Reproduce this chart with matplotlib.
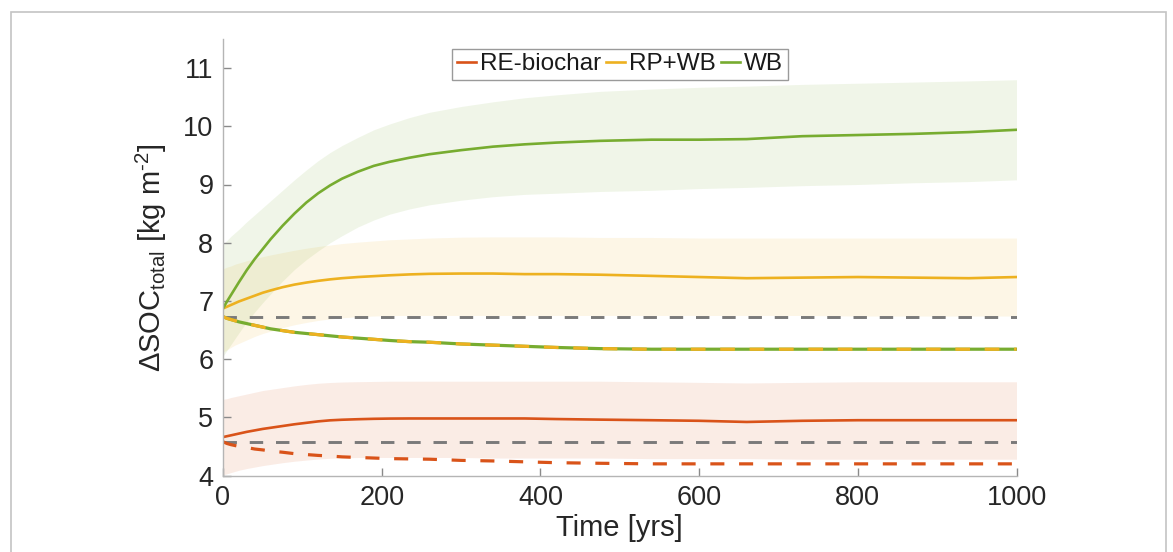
import matplotlib
matplotlib.use("Agg")
import matplotlib.pyplot as plt
from matplotlib.patches import Rectangle

plt.rcParams['font.family'] = ['Liberation Sans', 'DejaVu Sans']
plt.rcParams['mathtext.fontset'] = 'custom'
plt.rcParams['mathtext.rm'] = 'Liberation Sans'
plt.rcParams['mathtext.it'] = 'Liberation Sans:italic'

# ---- data ----
time_yrs = [0, 5, 10, 15, 20, 30, 40, 50, 60, 75, 90, 105, 120, 135, 150, 170, 190, 210,
            235, 260, 300, 340, 380, 420, 475, 540, 600, 660, 730, 800, 870, 940, 1000]

re_mean = [4.66, 4.675, 4.69, 4.705, 4.72, 4.75, 4.775, 4.80, 4.82, 4.85, 4.88, 4.905, 4.93,
           4.948, 4.958, 4.967, 4.974, 4.978, 4.98, 4.98, 4.98, 4.98, 4.98, 4.97, 4.96, 4.95,
           4.94, 4.92, 4.94, 4.95, 4.95, 4.95, 4.95]
re_upper = [5.31, 5.32, 5.34, 5.355, 5.37, 5.40, 5.43, 5.46, 5.48, 5.51, 5.54, 5.565, 5.585,
            5.598, 5.606, 5.612, 5.616, 5.62, 5.62, 5.62, 5.62, 5.62, 5.62, 5.62, 5.62, 5.61,
            5.60, 5.59, 5.60, 5.61, 5.61, 5.61, 5.61]
re_lower = [4.01, 4.03, 4.05, 4.07, 4.09, 4.12, 4.145, 4.17, 4.19, 4.22, 4.245, 4.265, 4.283,
            4.296, 4.304, 4.309, 4.31, 4.31, 4.31, 4.31, 4.31, 4.30, 4.30, 4.30, 4.30, 4.29,
            4.29, 4.29, 4.28, 4.28, 4.28, 4.28, 4.28]
re_dashed = [4.58, 4.55, 4.53, 4.515, 4.50, 4.48, 4.455, 4.44, 4.42, 4.40, 4.375, 4.36, 4.345,
             4.335, 4.32, 4.31, 4.30, 4.29, 4.285, 4.28, 4.26, 4.25, 4.235, 4.22, 4.21, 4.20,
             4.20, 4.20, 4.20, 4.20, 4.20, 4.20, 4.20]

rpwb_mean = [6.87, 6.90, 6.93, 6.96, 6.99, 7.04, 7.09, 7.14, 7.18, 7.235, 7.28, 7.315, 7.345,
             7.37, 7.39, 7.41, 7.425, 7.44, 7.455, 7.465, 7.47, 7.47, 7.46, 7.46, 7.45, 7.43,
             7.41, 7.39, 7.40, 7.41, 7.40, 7.39, 7.41]
rpwb_upper = [7.55, 7.58, 7.60, 7.63, 7.65, 7.69, 7.73, 7.76, 7.79, 7.83, 7.87, 7.905, 7.935,
              7.96, 7.985, 8.01, 8.03, 8.05, 8.065, 8.08, 8.095, 8.10, 8.10, 8.10, 8.09, 8.09,
              8.08, 8.08, 8.08, 8.08, 8.08, 8.08, 8.08]
rpwb_lower = [6.12, 6.16, 6.20, 6.24, 6.27, 6.33, 6.39, 6.44, 6.48, 6.54, 6.59, 6.63, 6.665,
              6.69, 6.71, 6.728, 6.74, 6.748, 6.75, 6.75, 6.75, 6.75, 6.75, 6.75, 6.75, 6.75,
              6.75, 6.75, 6.75, 6.74, 6.74, 6.74, 6.74]

wb_mean = [6.87, 6.99, 7.10, 7.21, 7.32, 7.53, 7.72, 7.89, 8.06, 8.29, 8.50, 8.69, 8.85,
           8.985, 9.10, 9.22, 9.32, 9.39, 9.46, 9.52, 9.59, 9.65, 9.69, 9.72, 9.75, 9.77,
           9.77, 9.78, 9.83, 9.85, 9.87, 9.90, 9.94]
wb_upper = [7.98, 8.04, 8.11, 8.17, 8.23, 8.36, 8.48, 8.60, 8.72, 8.90, 9.08, 9.25, 9.41,
            9.55, 9.67, 9.81, 9.94, 10.04, 10.15, 10.24, 10.34, 10.42, 10.49, 10.54, 10.60,
            10.64, 10.67, 10.69, 10.72, 10.74, 10.76, 10.78, 10.80]
wb_lower = [6.05, 6.15, 6.25, 6.35, 6.45, 6.64, 6.81, 6.97, 7.12, 7.34, 7.54, 7.71, 7.86,
            8.00, 8.12, 8.27, 8.39, 8.49, 8.58, 8.65, 8.73, 8.79, 8.83, 8.85, 8.88, 8.90,
            8.93, 8.95, 8.98, 9.00, 9.03, 9.05, 9.08]

# shared dashed trajectory of RP+WB and WB
wb_rpwb_dashed = [6.73, 6.70, 6.68, 6.66, 6.64, 6.61, 6.58, 6.55, 6.52, 6.49, 6.46, 6.44,
                  6.42, 6.40, 6.38, 6.36, 6.34, 6.32, 6.30, 6.29, 6.26, 6.24, 6.22, 6.20,
                  6.18, 6.17, 6.17, 6.17, 6.17, 6.17, 6.17, 6.17, 6.17]

baselines = [6.73, 4.58]

labels = ['RE-biochar', 'RP+WB', 'WB']
colors = ['#D95319', '#EDB120', '#77AC30']
x_ticks = [0, 200, 400, 600, 800, 1000]
y_ticks = [4, 5, 6, 7, 8, 9, 10, 11]

# ---- figure ----
W, H = 1173, 552
fig = plt.figure(figsize=(W / 100, H / 100), dpi=100)
fig.patches.append(Rectangle((11 / W, -0.05), (1166 - 11) / W, (H - 12) / H + 0.05,
                             transform=fig.transFigure, fill=False,
                             edgecolor='#c4c4c4', linewidth=1.2))

ax = fig.add_axes([223 / W, 1 - 475.5 / H, (1016.5 - 223) / W, (475.5 - 39) / H])

means = [re_mean, rpwb_mean, wb_mean]
uppers = [re_upper, rpwb_upper, wb_upper]
lowers = [re_lower, rpwb_lower, wb_lower]

for lo, up, c in zip(lowers, uppers, colors):
    ax.fill_between(time_yrs, lo, up, color=c, alpha=0.11, linewidth=0)

ax.hlines(baselines, time_yrs[0], time_yrs[-1], colors='#7a7a7a', linestyles=(0, (4.6, 4.4)),
          linewidth=2.1)

ax.plot(time_yrs, re_dashed, color=colors[0], linewidth=2.3, dashes=(4.4, 4.6))
ax.plot(time_yrs, wb_rpwb_dashed, color=colors[2], linewidth=2.3)
ax.plot(time_yrs, wb_rpwb_dashed, color=colors[1], linewidth=2.3, dashes=(4.6, 4.6))

handles = []
for m, c, lab in zip(means, colors, labels):
    h, = ax.plot(time_yrs, m, color=c, linewidth=1.9, label=lab)
    handles.append(h)

ax.set_xlim(0, 1000)
ax.set_ylim(4, 11.5)
ax.set_xticks(x_ticks)
ax.set_yticks(y_ticks)

for s in ['top', 'right']:
    ax.spines[s].set_visible(False)
for s in ['left', 'bottom']:
    ax.spines[s].set_color('#b5b5b5')
    ax.spines[s].set_linewidth(1.0)

ax.tick_params(axis='both', direction='in', length=6, width=1.0, color='#8a8a8a',
               labelsize=19.5, labelcolor='#262626', pad=7)

ax.set_xlabel('Time [yrs]', fontsize=21, color='#262626', labelpad=2)
ax.set_ylabel('ΔSOC$_{\\text{total}}$ [kg m$^{\\text{-2}}$]', fontsize=21,
              color='#262626', labelpad=10)

leg = ax.legend(handles=handles, loc='upper center', bbox_to_anchor=(0.5, 0.978), ncol=3,
                fontsize=17.5, frameon=True, fancybox=False, framealpha=1,
                edgecolor='#9a9a9a', handlelength=0.8, handletextpad=0.15,
                columnspacing=0.2, borderpad=0.2, borderaxespad=0)
leg.get_frame().set_linewidth(1.0)
for t in leg.get_texts():
    t.set_color('#1a1a1a')

fig.savefig('out.png', dpi=100)
